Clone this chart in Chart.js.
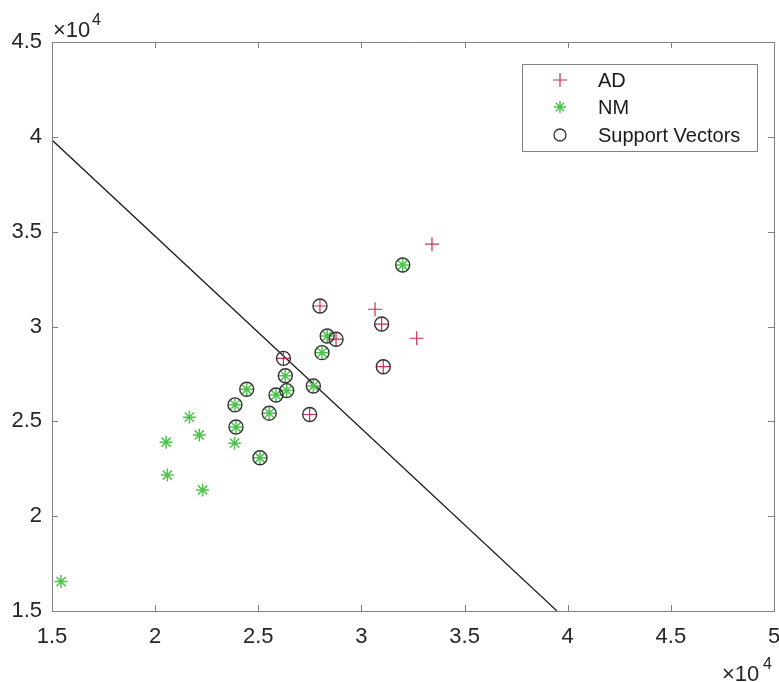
<!DOCTYPE html>
<html>
<head>
<meta charset="utf-8">
<script src="https://cdn.jsdelivr.net/npm/chart.js@4.4.1/dist/chart.umd.min.js"></script>
<style>
html,body{margin:0;padding:0;background:#fff;}
canvas{display:block;}
</style>
</head>
<body>
<canvas id="c" width="779" height="682"></canvas>
<script>
// ---- data (values in raw units; axes show ×10^4) ----
const adX = [33420, 30660, 32680, 26220, 27990, 28770, 27490, 30980, 31060];
const adY = [34340, 30910, 29380, 28320, 31080, 29330, 25360, 30130, 27880];

const nmX = [21660, 22140, 20530, 20590, 22300, 23850, 15440,
             23870, 23920, 25080, 24440, 25530, 25860, 26380, 26310, 27670, 28090, 28340, 32000];
const nmY = [25220, 24280, 23900, 22170, 21380, 23850, 16550,
             25870, 24700, 23080, 26690, 25430, 26390, 26620, 27400, 26860, 28620, 29500, 33240];

const svX = [23870, 23920, 25080, 24440, 25530, 25860, 26380, 26310, 27670, 28090, 28340, 32000,
             26220, 27990, 28770, 27490, 30980, 31060];
const svY = [25870, 24700, 23080, 26690, 25430, 26390, 26620, 27400, 26860, 28620, 29500, 33240,
             28320, 31080, 29330, 25360, 30130, 27880];

const boundaryX = [15000, 39480];
const boundaryY = [39830, 15000];

const xTickValues = [15000, 20000, 25000, 30000, 35000, 40000, 45000, 50000];
const xTickLabels = ['1.5', '2', '2.5', '3', '3.5', '4', '4.5', '5'];
const yTickValues = [15000, 20000, 25000, 30000, 35000, 40000, 45000];
const yTickLabels = ['1.5', '2', '2.5', '3', '3.5', '4', '4.5'];

const legendLabels = ['AD', 'NM', 'Support Vectors'];

const RED = '#c8304c';
const GREEN = '#4cc44c';
const DARK = '#333333';
const FONT = "'Liberation Sans', Arial, sans-serif";

const zip = (xs, ys) => xs.map((x, i) => ({x: x, y: ys[i]}));

const boxPlugin = {
  id: 'matlabBox',
  afterDraw(chart) {
    const ctx = chart.ctx;
    const a = chart.chartArea;
    const sx = chart.scales.x, sy = chart.scales.y;
    ctx.save();
    ctx.strokeStyle = '#808080';
    ctx.lineWidth = 1;
    ctx.beginPath();
    ctx.rect(Math.round(a.left) + 0.5, Math.round(a.top) + 0.5,
             Math.round(a.right - a.left), Math.round(a.bottom - a.top));
    ctx.stroke();
    const tl = 6;
    ctx.beginPath();
    xTickValues.forEach(v => {
      const px = Math.round(sx.getPixelForValue(v)) + 0.5;
      ctx.moveTo(px, a.bottom); ctx.lineTo(px, a.bottom - tl);
      ctx.moveTo(px, a.top); ctx.lineTo(px, a.top + tl);
    });
    yTickValues.forEach(v => {
      const py = Math.round(sy.getPixelForValue(v)) + 0.5;
      ctx.moveTo(a.left, py); ctx.lineTo(a.left + tl, py);
      ctx.moveTo(a.right, py); ctx.lineTo(a.right - tl, py);
    });
    ctx.stroke();

    // exponent labels
    ctx.fillStyle = '#262626';
    ctx.textBaseline = 'alphabetic';
    ctx.textAlign = 'left';
    ctx.font = '22px ' + FONT;
    ctx.fillText('\u00d710', a.left + 1, a.top - 5);
    ctx.font = '16px ' + FONT;
    ctx.fillText('4', a.left + 40, a.top - 17);
    ctx.font = '22px ' + FONT;
    ctx.fillText('\u00d710', a.right - 52, 681);
    ctx.font = '16px ' + FONT;
    ctx.fillText('4', a.right - 11, 669);

    // legend
    const lx = 522.5, ly = 64.5, lw = 235, lh = 87;
    ctx.fillStyle = '#ffffff';
    ctx.fillRect(lx, ly, lw, lh);
    ctx.strokeStyle = '#808080';
    ctx.strokeRect(lx, ly, lw, lh);
    const mx = 560;
    const rows = [80, 107, 135];
    // AD cross
    ctx.strokeStyle = RED; ctx.lineWidth = 1.2;
    ctx.beginPath();
    ctx.moveTo(mx - 7, rows[0]); ctx.lineTo(mx + 7, rows[0]);
    ctx.moveTo(mx, rows[0] - 7); ctx.lineTo(mx, rows[0] + 7);
    ctx.stroke();
    // NM star
    ctx.strokeStyle = GREEN; ctx.lineWidth = 1.5;
    ctx.beginPath();
    const r = 6;
    ctx.moveTo(mx - r, rows[1]); ctx.lineTo(mx + r, rows[1]);
    ctx.moveTo(mx, rows[1] - r); ctx.lineTo(mx, rows[1] + r);
    const d = r * 0.7;
    ctx.moveTo(mx - d, rows[1] - d); ctx.lineTo(mx + d, rows[1] + d);
    ctx.moveTo(mx - d, rows[1] + d); ctx.lineTo(mx + d, rows[1] - d);
    ctx.stroke();
    // SV circle
    ctx.strokeStyle = DARK; ctx.lineWidth = 1.3;
    ctx.beginPath();
    ctx.arc(mx, rows[2], 6, 0, Math.PI * 2);
    ctx.stroke();
    ctx.fillStyle = '#1a1a1a';
    ctx.font = '20px ' + FONT;
    ctx.textBaseline = 'middle';
    legendLabels.forEach((t, i) => ctx.fillText(t, 598, rows[i] + 1));
    ctx.restore();
  }
};

new Chart(document.getElementById('c'), {
  type: 'scatter',
  data: {
    datasets: [
      {
        label: 'Support Vectors',
        data: zip(svX, svY),
        pointStyle: 'circle',
        pointRadius: 7,
        pointBorderColor: DARK,
        pointBackgroundColor: 'rgba(0,0,0,0)',
        pointBorderWidth: 1.4,
        order: 1
      },
      {
        label: 'AD',
        data: zip(adX, adY),
        pointStyle: 'cross',
        pointRadius: 7,
        pointBorderColor: RED,
        pointBorderWidth: 1.2,
        order: 2
      },
      {
        label: 'NM',
        data: zip(nmX, nmY),
        pointStyle: 'star',
        pointRadius: 6.5,
        pointBorderColor: GREEN,
        pointBorderWidth: 1.5,
        order: 3
      },
      {
        label: 'boundary',
        type: 'line',
        data: zip(boundaryX, boundaryY),
        showLine: true,
        borderColor: '#1a1a1a',
        borderWidth: 1.2,
        pointRadius: 0,
        fill: false,
        order: 4
      }
    ]
  },
  options: {
    responsive: false,
    animation: false,
    layout: {autoPadding: false, padding: {top: 42, right: 5, left: 0, bottom: 0}},
    plugins: {legend: {display: false}, tooltip: {enabled: false}},
    scales: {
      x: {
        type: 'linear',
        min: 15000, max: 50000,
        afterBuildTicks: s => { s.ticks = xTickValues.map(v => ({value: v})); },
        afterFit: s => { s.height = 71; s.paddingLeft = 0; s.paddingRight = 0; },
        grid: {display: false},
        border: {display: false},
        ticks: {
          autoSkip: false,
          maxRotation: 0,
          padding: 5,
          color: '#262626',
          font: {family: FONT, size: 22},
          callback: v => xTickLabels[xTickValues.indexOf(v)]
        }
      },
      y: {
        type: 'linear',
        min: 15000, max: 45000,
        afterBuildTicks: s => { s.ticks = yTickValues.map(v => ({value: v})); },
        afterFit: s => { s.width = 52; s.paddingTop = 0; s.paddingBottom = 0; },
        grid: {display: false},
        border: {display: false},
        ticks: {
          autoSkip: false,
          padding: 2,
          color: '#262626',
          font: {family: FONT, size: 22},
          callback: v => yTickLabels[yTickValues.indexOf(v)]
        }
      }
    }
  },
  plugins: [boxPlugin]
});
</script>
</body>
</html>
